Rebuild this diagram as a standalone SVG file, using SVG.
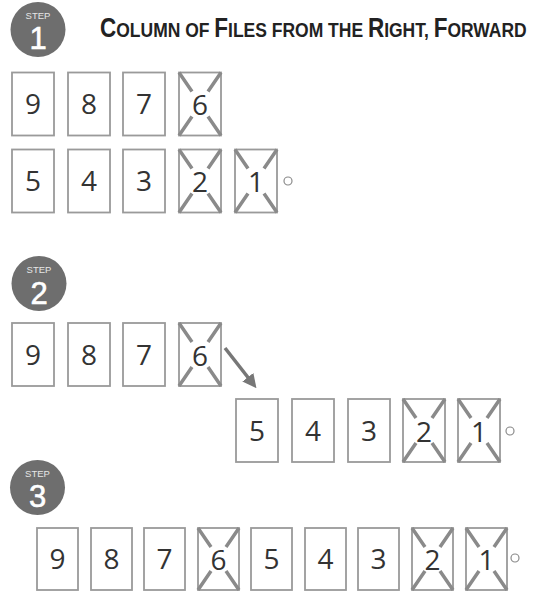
<svg xmlns="http://www.w3.org/2000/svg" xmlns:xlink="http://www.w3.org/1999/xlink" width="545" height="596" viewBox="0 0 545 596">
<style>
.box{fill:#fff;stroke:#9a9a9a;stroke-width:1.8}
.num{font-family:"Open Sans","DejaVu Sans",sans-serif;font-size:28px;fill:#333;text-anchor:middle}
.x{stroke:#8a8a8a;stroke-width:3.5;stroke-linecap:butt;fill:none}
.dot{fill:#fff;stroke:#8a8a8a;stroke-width:1.2}
.badge{fill:#6e6e6e}
.step{font-family:"Liberation Sans","Open Sans",sans-serif;font-size:9.5px;fill:#e6e6e6;text-anchor:middle}
.bnum{font-family:"Liberation Sans","Open Sans",sans-serif;font-size:31px;fill:#fff;text-anchor:middle;stroke:#fff;stroke-width:0.6}
.t{font-family:"Liberation Sans","Arial",sans-serif;font-weight:bold;fill:#222}
.big{font-size:27px}
.sm{font-size:21px}
</style>
<defs>
<path id="cross" class="x" d="M0,0 l13,19 M42,0 l-13,19 M0,63 l13,-19 M42,63 l-13,-19"/>
<path id="cross3" class="x" d="M0,0 l13,19 M41,0 l-13,19 M0,62 l13,-19 M41,62 l-13,-19"/>
<marker id="ah" markerWidth="4" markerHeight="4" refX="1" refY="2" orient="auto" markerUnits="strokeWidth">
<path d="M0,0 L4,2 L0,4 z" fill="#777"/>
</marker>
</defs>

<g id="title">
<g id="badge1"><circle class="badge" cx="38" cy="29.5" r="27.5"/><text class="step" x="38" y="18.5">STEP</text><text class="bnum" x="38" y="49">1</text></g>
<g transform="translate(100,37) scale(0.833,1)">
<text class="t" x="0" y="0"><tspan class="big">C</tspan><tspan class="sm">OLUMN OF </tspan><tspan class="big">F</tspan><tspan class="sm">ILES FROM THE </tspan><tspan class="big">R</tspan><tspan class="sm">IGHT, </tspan><tspan class="big">F</tspan><tspan class="sm">ORWARD</tspan></text>
</g>
</g>

<g id="step1">
<g id="s1-9"><rect class="box" x="12" y="72.5" width="42" height="63"/><text class="num" x="33" y="114">9</text></g>
<g id="s1-8"><rect class="box" x="68" y="72.5" width="42" height="63"/><text class="num" x="89" y="114">8</text></g>
<g id="s1-7"><rect class="box" x="123" y="72.5" width="42" height="63"/><text class="num" x="144" y="114">7</text></g>
<g id="s1-6"><rect class="box" x="179" y="72.5" width="42" height="63"/><use xlink:href="#cross" x="179" y="72.5"/><text class="num" x="200" y="115">6</text></g>
<g id="s1-5"><rect class="box" x="12" y="149.5" width="42" height="63"/><text class="num" x="33" y="191">5</text></g>
<g id="s1-4"><rect class="box" x="68" y="149.5" width="42" height="63"/><text class="num" x="89" y="191">4</text></g>
<g id="s1-3"><rect class="box" x="123" y="149.5" width="42" height="63"/><text class="num" x="144" y="191">3</text></g>
<g id="s1-2"><rect class="box" x="179" y="149.5" width="42" height="63"/><use xlink:href="#cross" x="179" y="149.5"/><text class="num" x="200" y="192">2</text></g>
<g id="s1-1"><rect class="box" x="235" y="149.5" width="42" height="63"/><use xlink:href="#cross" x="235" y="149.5"/><text class="num" x="256" y="192">1</text><circle class="dot" cx="288" cy="181" r="4"/></g>
</g>

<g id="step2">
<g id="badge2"><circle class="badge" cx="39" cy="283.5" r="27.5"/><text class="step" x="39" y="272.5">STEP</text><text class="bnum" x="39" y="303.5">2</text></g>
<g id="s2-9"><rect class="box" x="12" y="323" width="42" height="63"/><text class="num" x="33" y="364.5">9</text></g>
<g id="s2-8"><rect class="box" x="68" y="323" width="42" height="63"/><text class="num" x="89" y="364.5">8</text></g>
<g id="s2-7"><rect class="box" x="123" y="323" width="42" height="63"/><text class="num" x="144" y="364.5">7</text></g>
<g id="s2-6"><rect class="box" x="179" y="323" width="42" height="63"/><use xlink:href="#cross" x="179" y="323"/><text class="num" x="200" y="365.5">6</text></g>
<g id="s2-5"><rect class="box" x="236" y="399" width="42" height="63"/><text class="num" x="257" y="440.5">5</text></g>
<g id="s2-4"><rect class="box" x="292" y="399" width="42" height="63"/><text class="num" x="313" y="440.5">4</text></g>
<g id="s2-3"><rect class="box" x="348" y="399" width="42" height="63"/><text class="num" x="369" y="440.5">3</text></g>
<g id="s2-2"><rect class="box" x="403" y="399" width="42" height="63"/><use xlink:href="#cross" x="403" y="399"/><text class="num" x="424" y="441.5">2</text></g>
<g id="s2-1"><rect class="box" x="458" y="399" width="42" height="63"/><use xlink:href="#cross" x="458" y="399"/><text class="num" x="479" y="441.5">1</text><circle class="dot" cx="510" cy="431" r="4"/></g>
</g>

<g id="step3">
<g id="badge3"><circle class="badge" cx="37.5" cy="487.5" r="27.5"/><text class="step" x="37.5" y="476.5">STEP</text><text class="bnum" x="37.5" y="507">3</text></g>
<g id="s3-9"><rect class="box" x="37" y="528" width="41" height="62"/><text class="num" x="57.5" y="569">9</text></g>
<g id="s3-8"><rect class="box" x="91" y="528" width="41" height="62"/><text class="num" x="111.5" y="569">8</text></g>
<g id="s3-7"><rect class="box" x="144" y="528" width="41" height="62"/><text class="num" x="164.5" y="569">7</text></g>
<g id="s3-6"><rect class="box" x="198" y="528" width="41" height="62"/><use xlink:href="#cross3" x="198" y="528"/><text class="num" x="218.5" y="570">6</text></g>
<g id="s3-5"><rect class="box" x="251" y="528" width="41" height="62"/><text class="num" x="271.5" y="569">5</text></g>
<g id="s3-4"><rect class="box" x="305" y="528" width="41" height="62"/><text class="num" x="325.5" y="569">4</text></g>
<g id="s3-3"><rect class="box" x="358" y="528" width="41" height="62"/><text class="num" x="378.5" y="569">3</text></g>
<g id="s3-2"><rect class="box" x="412" y="528" width="41" height="62"/><use xlink:href="#cross3" x="412" y="528"/><text class="num" x="432.5" y="570">2</text></g>
<g id="s3-1"><rect class="box" x="466" y="528" width="41" height="62"/><use xlink:href="#cross3" x="466" y="528"/><text class="num" x="486.5" y="570">1</text><circle class="dot" cx="515" cy="558" r="4"/></g>
</g>

<g id="connectors">
<line x1="225" y1="348" x2="250" y2="380" stroke="#777" stroke-width="3.5" marker-end="url(#ah)"/>
</g>
</svg>
